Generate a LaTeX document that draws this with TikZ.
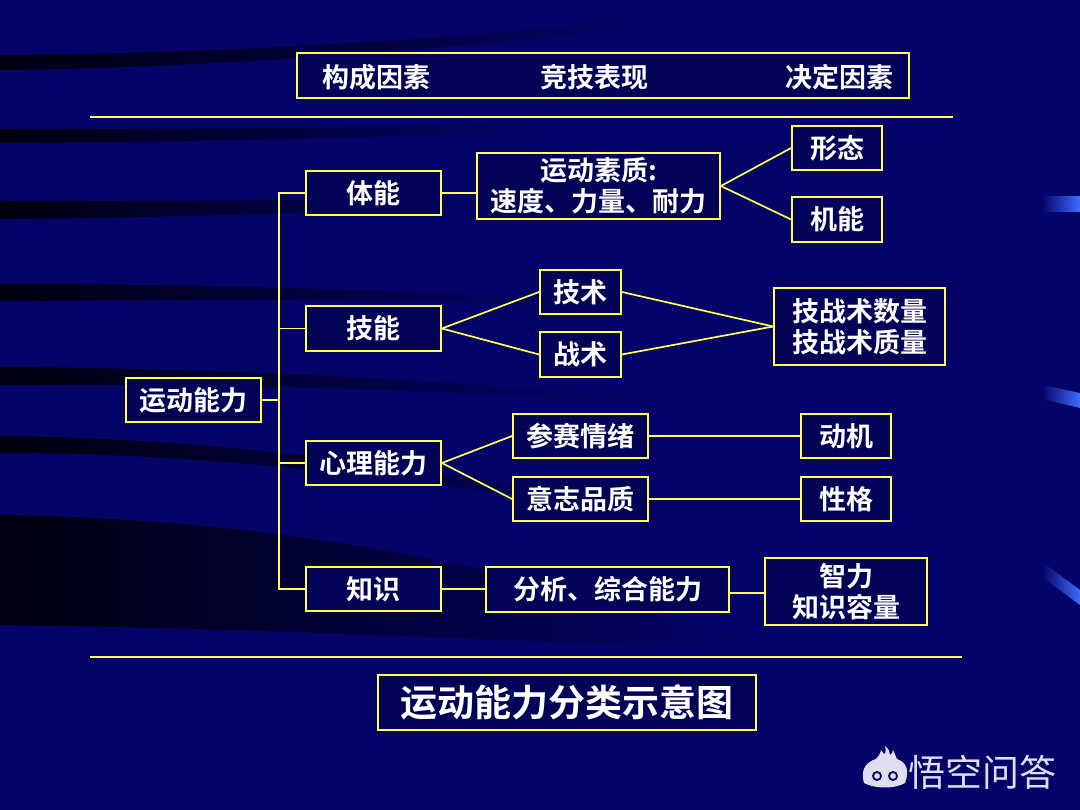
\documentclass[tikz,border=0pt]{standalone}
\usepackage{fontspec}
\newfontfamily\cjk{Noto Sans CJK SC}[BoldFont={Noto Sans CJK SC Bold}]
\usetikzlibrary{fadings}
\definecolor{bgblue}{RGB}{4,4,104}
\definecolor{boxbg}{RGB}{2,2,86}
\definecolor{ylw}{RGB}{255,255,85}
\definecolor{shadeclr}{RGB}{0,0,16}
\definecolor{barblue}{RGB}{60,110,255}
\definecolor{wm}{RGB}{222,222,240}
\begin{document}
\begin{tikzpicture}[x=1pt,y=-1pt,
  box/.style={draw=ylw, fill=boxbg, line width=1.8pt, text=white, inner sep=0pt, align=center,
    font=\cjk\bfseries\fontsize{27}{31}\selectfont},
  plain/.style={text=white, inner sep=0pt, font=\cjk\bfseries\fontsize{27}{31}\selectfont},
  link/.style={draw=ylw, line width=1.7pt},
  rulestyle/.style={draw=ylw, line width=2pt},
  band/.style={fill=shadeclr, path fading=east},
  bar/.style={fill=barblue, path fading=west}]

% background
\fill[bgblue] (0,0) rectangle (1080,810);
\useasboundingbox (0,0) rectangle (1080,810);

% dark streaks
\fill[band] (0,55) .. controls (200,54) and (420,42) .. (660,18) -- (660,26) .. controls (420,52) and (200,68) .. (0,70) -- cycle;
\fill[band] (0,129) .. controls (180,129) and (360,128) .. (540,124) -- (540,132) .. controls (360,138) and (180,142) .. (0,143) -- cycle;
\fill[band] (0,201) .. controls (160,201) and (330,200) .. (500,198) -- (500,206) .. controls (330,212) and (160,218) .. (0,219) -- cycle;
\fill[band] (0,284) .. controls (200,284) and (400,290) .. (580,300) -- (580,306) .. controls (400,298) and (200,300) .. (0,301) -- cycle;
\fill[band] (0,367) .. controls (200,368) and (420,378) .. (620,396) -- (620,402) .. controls (420,388) and (200,384) .. (0,385) -- cycle;
\fill[band] (0,436) .. controls (220,438) and (450,470) .. (660,512) -- (660,518) .. controls (450,484) and (220,452) .. (0,453) -- cycle;
\fill[band] (0,515) .. controls (250,518) and (500,560) .. (740,640) -- (740,650) .. controls (500,640) and (250,628) .. (0,625) -- cycle;

% right edge bars
\fill[bar] (1042,196) rectangle (1080,212);
\fill[bar] (1042,385) -- (1080,393) -- (1080,408) -- (1042,399) -- cycle;
\fill[bar] (1042,562) -- (1080,590) -- (1080,605) -- (1042,577) -- cycle;

% header
\node[box, minimum width=612, minimum height=45] (hdr) at (603,75.5) {};
\node[plain] (h1) at (376,77) {构成因素};
\node[plain] (h2) at (594,77) {竞技表现};
\node[plain] (h3) at (839,77) {决定因素};

% rules
\coordinate (r1a) at (90,117);
\coordinate (r1b) at (953,117);
\coordinate (r2a) at (90,657);
\coordinate (r2b) at (962,657);
\draw[rulestyle] (r1a) -- (r1b);
\draw[rulestyle] (r2a) -- (r2b);

% nodes
\node[box, minimum width=135, minimum height=44] (ydnl) at (193.5,400) {运动能力};
\node[box, minimum width=135, minimum height=44] (tineng) at (373.5,193) {体能};
\node[box, minimum width=135, minimum height=45] (jineng) at (373.5,328.5) {技能};
\node[box, minimum width=135, minimum height=44] (xinli) at (373.5,463) {心理能力};
\node[box, minimum width=135, minimum height=44] (zhishi) at (373.5,589) {知识};

\node[box, minimum width=243, minimum height=66] (suzhi) at (598.5,186)
  {运动素质:\\速度、力量、耐力};
\node[box, minimum width=90, minimum height=44] (xingtai) at (837,148) {形态};
\node[box, minimum width=90, minimum height=45] (jineng2) at (837,219.5) {机能};

\node[box, minimum width=81, minimum height=44] (jishu) at (580.5,292) {技术};
\node[box, minimum width=81, minimum height=45] (zhanshu) at (580.5,354.5) {战术};
\node[box, minimum width=171, minimum height=77] (jzs) at (859.5,326.5) {技战术数量\\技战术质量};

\node[box, minimum width=135, minimum height=44] (cansai) at (580.5,436) {参赛情绪};
\node[box, minimum width=135, minimum height=44] (yizhi) at (580.5,499) {意志品质};
\node[box, minimum width=90, minimum height=44] (dongji) at (846,436) {动机};
\node[box, minimum width=90, minimum height=44] (xingge) at (846,499) {性格};

\node[box, minimum width=243, minimum height=45] (fenxi) at (607.5,589.5) {分析、综合能力};
\node[box, minimum width=162, minimum height=67] (zhili) at (846,591.5) {智力\\知识容量};

\node[box, minimum width=378, minimum height=55, font=\cjk\bfseries\fontsize{37}{40}\selectfont] (title) at (567,702.5) {运动能力分类示意图};

% connectors
\coordinate (trunk) at (279,400);
\draw[link] (ydnl.east) -- (trunk);
\draw[link] (tineng.west) -| (trunk);
\draw[link] (zhishi.west) -| (trunk);
\draw[link] (jineng.west) -- (jineng.west -| trunk);
\draw[link] (xinli.west) -- (xinli.west -| trunk);

\draw[link] (tineng.east) -- (tineng.east -| suzhi.west);
\draw[link] (suzhi.east) -- (xingtai.west);
\draw[link] (suzhi.east) -- (jineng2.west);

\draw[link] (jineng.east) -- (jishu.west);
\draw[link] (jineng.east) -- (zhanshu.west);
\draw[link] (jishu.east) -- (jzs.west);
\draw[link] (zhanshu.east) -- (jzs.west);

\draw[link] (xinli.east) -- (cansai.west);
\draw[link] (xinli.east) -- (yizhi.west);
\draw[link] (cansai.east) -- (dongji.west);
\draw[link] (yizhi.east) -- (xingge.west);

\draw[link] (zhishi.east) -- (zhishi.east -| fenxi.west);
\draw[link] ([yshift=-3.5pt]fenxi.east) -- ([yshift=-3.5pt]fenxi.east -| zhili.west);

% watermark
\fill[wm] (864,783) .. controls (860,770) and (866,762) .. (876,759) .. controls (879,756) and (881,752) .. (881,750)
  .. controls (883,753) and (884,754) .. (885,754) .. controls (886,751) and (886,748) .. (885,746)
  .. controls (889,749) and (890,752) .. (890,755) .. controls (892,754) and (893,752) .. (893,750)
  .. controls (895,754) and (896,757) .. (897,759) .. controls (906,762) and (910,770) .. (905,783)
  .. controls (895,789) and (875,789) .. (864,783) -- cycle;
\draw[bgblue, line width=1.8pt] (877,776) circle (4);
\draw[bgblue, line width=1.8pt] (893,776) circle (4);
\node[text=wm, inner sep=0pt, anchor=west, font=\cjk\fontsize{37}{37}\selectfont] (wmtext) at (908,772) {悟空问答};
\end{tikzpicture}
\end{document}
